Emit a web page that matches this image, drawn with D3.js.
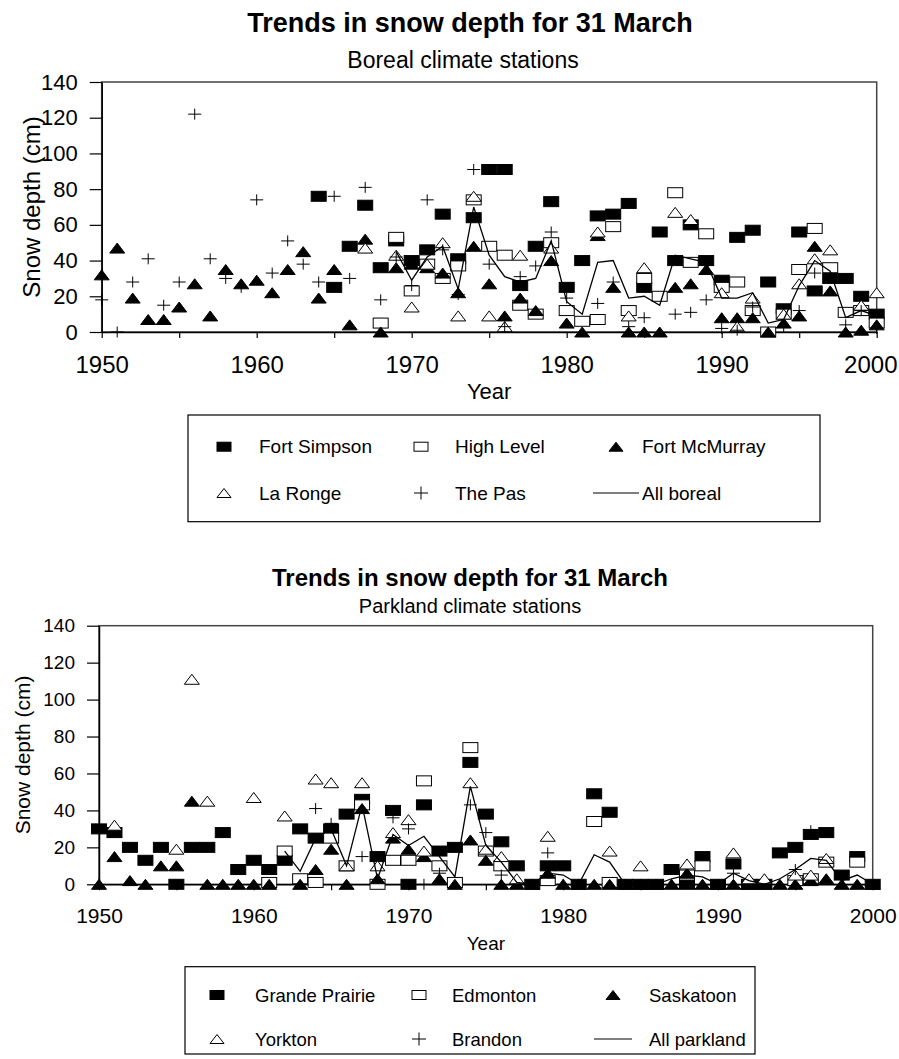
<!DOCTYPE html>
<html>
<head>
<meta charset="utf-8">
<script src="https://cdn.jsdelivr.net/npm/d3@7"></script>
<style>
body { margin: 0; background: #fff; }
svg { display: block; font-family: "Liberation Sans", Arial, sans-serif; }
</style>
</head>
<body>
<svg id="chart" width="899" height="1059"></svg>
<script>
// snow depth on 31 March (cm), one value per year 1950..2000, null = no observation
var years = d3.range(1950, 2001);

// boreal stations
var fortSimpson = [
  null, null, null, null, null, null, null, null, null, null,
  null, null, null, null, 76, 25, 48, 71, 36, 51,
  40, 46, 66, 41, 64, 91, 91, 26, 48, 73,
  25, 40, 65, 66, 72, 25, 56, 40, 60, 40,
  29, 53, 57, 28, 13, 56, 23, 30, 30, 20,
  10];
var highLevel = [
  null, null, null, null, null, null, null, null, null, null,
  null, null, null, null, null, null, null, null, 5, 53,
  23, 38, 30, 37, 74, 48, 43, 15, 10, 50,
  12, 6, 7, 59, 12, 30, 20, 78, 39, 55,
  25, 28, 12, 0, 10, 35, 58, 36, 11, 12,
  5];
var fortMcMurray = [
  32, 47, 19, 7, 7, 14, 27, 9, 35, 27,
  29, 22, 35, 45, 19, 35, 4, 52, 0, 36,
  38, 36, 33, 22, 48, 27, 9, 19, 12, 40,
  5, 0, 54, 25, 0, 0, 0, 25, 27, 35,
  8, 8, 8, 0, 5, 9, 48, 23, 0, 1,
  4];
var laRonge = [
  null, null, null, null, null, null, null, null, null, null,
  null, null, null, null, null, null, null, 47, null, 43,
  14, 38, 50, 9, 76, 9, 3, 43, null, 47,
  null, null, 56, null, 9, 36, null, 67, 63, null,
  22, 3, 19, null, 10, 27, 41, 46, null, 15,
  22];
var thePas = [
  18, 0, 28, 41, 15, 28, 122, 41, 30, 25,
  74, 33, 51, 38, 28, 76, 30, 81, 18, 42,
  26, 74, 46, 21, 91, 38, 3, 31, 37, 56,
  19, null, 16, 28, 3, 8, null, 10, 11, 18,
  2, 1, 14, null, 3, 12, 33, null, 4, 12,
  2];
var allBoreal = [
  null, null, null, null, null, null, null, null, null, null,
  null, null, null, null, null, null, null, null, null, 45,
  29, 42, 48, 24, 70, 43, 31, 28, 30, 51,
  17, 10, 39, 40, 19, 20, 15, 43, 41, 39,
  19, 19, 22, 5, 7, 26, 40, 34, 8, 12,
  9];

// parkland stations
var grandePrairie = [
  30, 28, 20, 13, 20, 0, 20, 20, 28, 8,
  13, 8, 13, 30, 25, 30, 38, 46, 15, 40,
  0, 43, 18, 20, 66, 38, 23, 10, 0, 10,
  10, 0, 49, 39, 0, 0, 0, 8, 0, 15,
  0, 11, 0, 0, 17, 20, 27, 28, 5, 15,
  0];
var edmonton = [
  null, null, null, null, null, null, null, null, null, null,
  null, 1, 18, 3, 1, 25, 10, 43, 0, 13,
  13, 56, 10, 1, 74, 18, 10, null, null, 2,
  null, null, 34, 1, null, null, null, null, 5, 10,
  null, null, null, null, null, 2, 3, 12, null, 12,
  null];
var saskatoon = [
  0, 15, 2, 0, 10, 10, 45, 0, 0, 0,
  0, 0, null, 0, 8, 19, 0, 41, 3, 25,
  19, 15, 3, 0, 24, 13, 0, 0, 0, 6,
  0, 0, 0, 0, 0, 0, 0, 0, 6, 0,
  0, 0, 0, 0, 0, 0, 2, 3, 0, 0,
  0];
var yorkton = [
  null, 32, null, null, null, 19, 111, 45, null, null,
  47, null, 37, null, 57, 55, 10, 55, 10, 28,
  35, 18, null, null, 55, 19, 15, 3, null, 26,
  null, null, null, 18, null, 10, null, null, 11, null,
  null, 17, 3, 3, null, 5, 5, 14, null, null,
  null];
var brandon = [
  null, null, null, null, null, null, null, null, null, null,
  null, null, null, null, 41, 33, null, 15, null, 36,
  30, 0, 6, null, 43, 28, 5, null, null, 17,
  0, null, null, null, null, null, null, null, null, null,
  null, 6, null, null, null, 8, 29, null, null, null,
  null];
var allParkland = [
  null, null, null, null, null, null, null, null, null, null,
  null, null, 18, 7, 25, 30, 10, 43, 3, 27,
  21, 26, 15, 4, 53, 21, 12, 1, 0, 6,
  5, 0, 16, 12, 0, 0, 0, 3, 5, 4,
  0, 6, 2, 0, 3, 8, 14, 13, 2, 5,
  0];

var yTickValues = [0, 20, 40, 60, 80, 100, 120, 140];
var xTickValues = [1950, 1955, 1960, 1965, 1970, 1975, 1980, 1985, 1990, 1995, 2000];
var xTickLabels = [1950, 1960, 1970, 1980, 1990, 2000];

var borealNames = ["Fort Simpson", "High Level", "Fort McMurray", "La Ronge", "The Pas", "All boreal"];
var parklandNames = ["Grande Prairie", "Edmonton", "Saskatoon", "Yorkton", "Brandon", "All parkland"];
var markerKinds = ["sqFill", "sqOpen", "triFill", "triOpen", "plus", "line"];

var svg = d3.select("#chart");
var W = +svg.attr("width");

// draw one marker centred on 0,0 inside g
function marker(g, kind, w, h) {
  if (kind == "sqFill" || kind == "sqOpen") {
    g.append("rect")
      .attr("x", -w / 2).attr("y", -h / 2)
      .attr("width", w).attr("height", h)
      .attr("fill", kind == "sqFill" ? "#000" : "#fff")
      .attr("stroke", "#000").attr("stroke-width", 1);
  } else if (kind == "triFill" || kind == "triOpen") {
    g.append("path")
      .attr("d", "M0," + (-h / 2) + "L" + (w / 2) + "," + (h / 2) + "L" + (-w / 2) + "," + (h / 2) + "Z")
      .attr("fill", kind == "triFill" ? "#000" : "#fff")
      .attr("stroke", "#000").attr("stroke-width", 1);
  } else if (kind == "plus") {
    g.append("path")
      .attr("d", "M" + (-w / 2) + ",0H" + (w / 2) + "M0," + (-h / 2) + "V" + (h / 2))
      .attr("fill", "none").attr("stroke", "#000").attr("stroke-width", 1);
  } else {
    g.append("path")
      .attr("d", "M" + (-w / 2) + ",0H" + (w / 2))
      .attr("stroke", "#000").attr("stroke-width", 1.2);
  }
}

function drawPanel(p) {
  var x = d3.scaleLinear().domain([1950, 2000]).range([p.left, p.right]);
  var y = d3.scaleLinear().domain([0, 140]).range([p.bottom, p.top]);
  var g = svg.append("g");

  g.append("text")
    .attr("x", p.titleX).attr("y", p.titleY)
    .attr("text-anchor", "middle")
    .style("font-size", p.titleSize + "px").style("font-weight", "bold")
    .text("Trends in snow depth for 31 March");
  g.append("text")
    .attr("x", p.subX).attr("y", p.subY)
    .attr("text-anchor", "middle")
    .style("font-size", p.subSize + "px")
    .text(p.subtitle);

  // plot frame
  g.append("rect")
    .attr("x", p.left).attr("y", p.top)
    .attr("width", p.right - p.left).attr("height", p.bottom - p.top)
    .attr("fill", "none").attr("stroke", "#444").attr("stroke-width", 1.5);

  var yAxis = g.append("g")
    .attr("transform", "translate(" + p.left + ",0)")
    .call(d3.axisLeft(y).tickValues(yTickValues).tickSize(12).tickPadding(12).tickSizeOuter(0));
  yAxis.selectAll("text").style("font-size", p.yTickSize + "px").attr("fill", "#000")
    .style("font-family", "Liberation Sans, Arial, sans-serif");

  var xAxis = g.append("g")
    .attr("transform", "translate(0," + p.bottom + ")")
    .call(d3.axisBottom(x).tickValues(xTickValues).tickSize(6).tickPadding(p.xPad).tickSizeOuter(0)
      .tickFormat(function(d) { return xTickLabels.indexOf(d) > -1 ? d : ""; }));
  xAxis.selectAll("text").style("font-size", p.xTickSize + "px").attr("fill", "#000")
    .style("font-family", "Liberation Sans, Arial, sans-serif");
  // keep the last year label inside the page
  xAxis.selectAll("text").each(function(d) {
    var half = this.getComputedTextLength() / 2;
    var over = x(d) + half - (W - 2);
    if (over > 0) d3.select(this).attr("dx", -over);
  });

  [yAxis, xAxis].forEach(function(a) {
    a.select(".domain").attr("stroke", "#000").attr("stroke-width", 1.5);
    a.selectAll(".tick line").attr("stroke", "#000").attr("stroke-width", 1.2);
  });

  g.append("text")
    .attr("x", (p.left + p.right) / 2).attr("y", p.yearY)
    .attr("text-anchor", "middle")
    .style("font-size", p.yearSize + "px")
    .text("Year");
  g.append("text")
    .attr("transform", "translate(" + p.yTitleX + "," + (p.top + p.bottom) / 2 + ")rotate(-90)")
    .attr("text-anchor", "middle")
    .style("font-size", p.yTitleSize + "px")
    .text("Snow depth (cm)");

  // station markers
  p.series.forEach(function(vals, i) {
    var kind = markerKinds[i];
    var pts = years.map(function(yr, j) { return [yr, vals[j]]; })
      .filter(function(d) { return d[1] != null; });
    if (kind == "line") {
      g.append("path")
        .datum(pts)
        .attr("fill", "none").attr("stroke", "#000").attr("stroke-width", 1.3)
        .attr("d", d3.line().x(function(d) { return x(d[0]); }).y(function(d) { return y(d[1]); }));
      return;
    }
    var w = kind == "plus" ? 13 : 15, h = kind == "plus" ? 11 : 10;
    g.append("g").selectAll("g")
      .data(pts)
      .enter().append("g")
      .attr("transform", function(d) { return "translate(" + x(d[0]) + "," + y(d[1]) + ")"; })
      .each(function() { marker(d3.select(this), kind, w, h); });
  });

  // legend
  var L = p.legend;
  g.append("rect")
    .attr("x", L.x0).attr("y", L.y0)
    .attr("width", L.x1 - L.x0).attr("height", L.y1 - L.y0)
    .attr("fill", "none").attr("stroke", "#000").attr("stroke-width", 1.2);
  p.names.forEach(function(name, i) {
    var row = Math.floor(i / 3), col = i % 3;
    var kind = markerKinds[i];
    var mg = g.append("g")
      .attr("transform", "translate(" + L.markX[col] + "," + L.rowY[row] + ")");
    if (kind == "line") marker(mg, kind, L.lineW, 0);
    else if (kind == "plus") marker(mg, kind, 14, 13);
    else marker(mg, kind, 14, 9);
    g.append("text")
      .attr("x", L.textX[col]).attr("y", L.rowY[row] + 6.5)
      .style("font-size", L.fontSize + "px")
      .text(name);
  });
}

drawPanel({
  left: 101.7, right: 876.7, top: 82, bottom: 332,
  titleX: 470, titleY: 32, titleSize: 27,
  subtitle: "Boreal climate stations", subX: 463, subY: 68, subSize: 23,
  yTickSize: 22, xTickSize: 24, xPad: 18,
  yearY: 399, yearSize: 22, yTitleX: 40, yTitleSize: 24,
  series: [fortSimpson, highLevel, fortMcMurray, laRonge, thePas, allBoreal],
  names: borealNames,
  legend: { x0: 188, x1: 820, y0: 415, y1: 521.7, rowY: [446.7, 493],
            markX: [224, 421, 616], textX: [259, 455, 642], lineW: 46, fontSize: 19 }
});

drawPanel({
  left: 99, right: 872.7, top: 625.7, bottom: 884.3,
  titleX: 470, titleY: 586, titleSize: 24,
  subtitle: "Parkland climate stations", subX: 470, subY: 613, subSize: 20,
  yTickSize: 19, xTickSize: 21, xPad: 18,
  yearY: 950, yearSize: 19, yTitleX: 30, yTitleSize: 21,
  series: [grandePrairie, edmonton, saskatoon, yorkton, brandon, allParkland],
  names: parklandNames,
  legend: { x0: 185, x1: 755, y0: 966.7, y1: 1054, rowY: [995, 1039],
            markX: [217, 419, 613], textX: [255, 452, 649], lineW: 38, fontSize: 18.5 }
});
</script>
</body>
</html>
